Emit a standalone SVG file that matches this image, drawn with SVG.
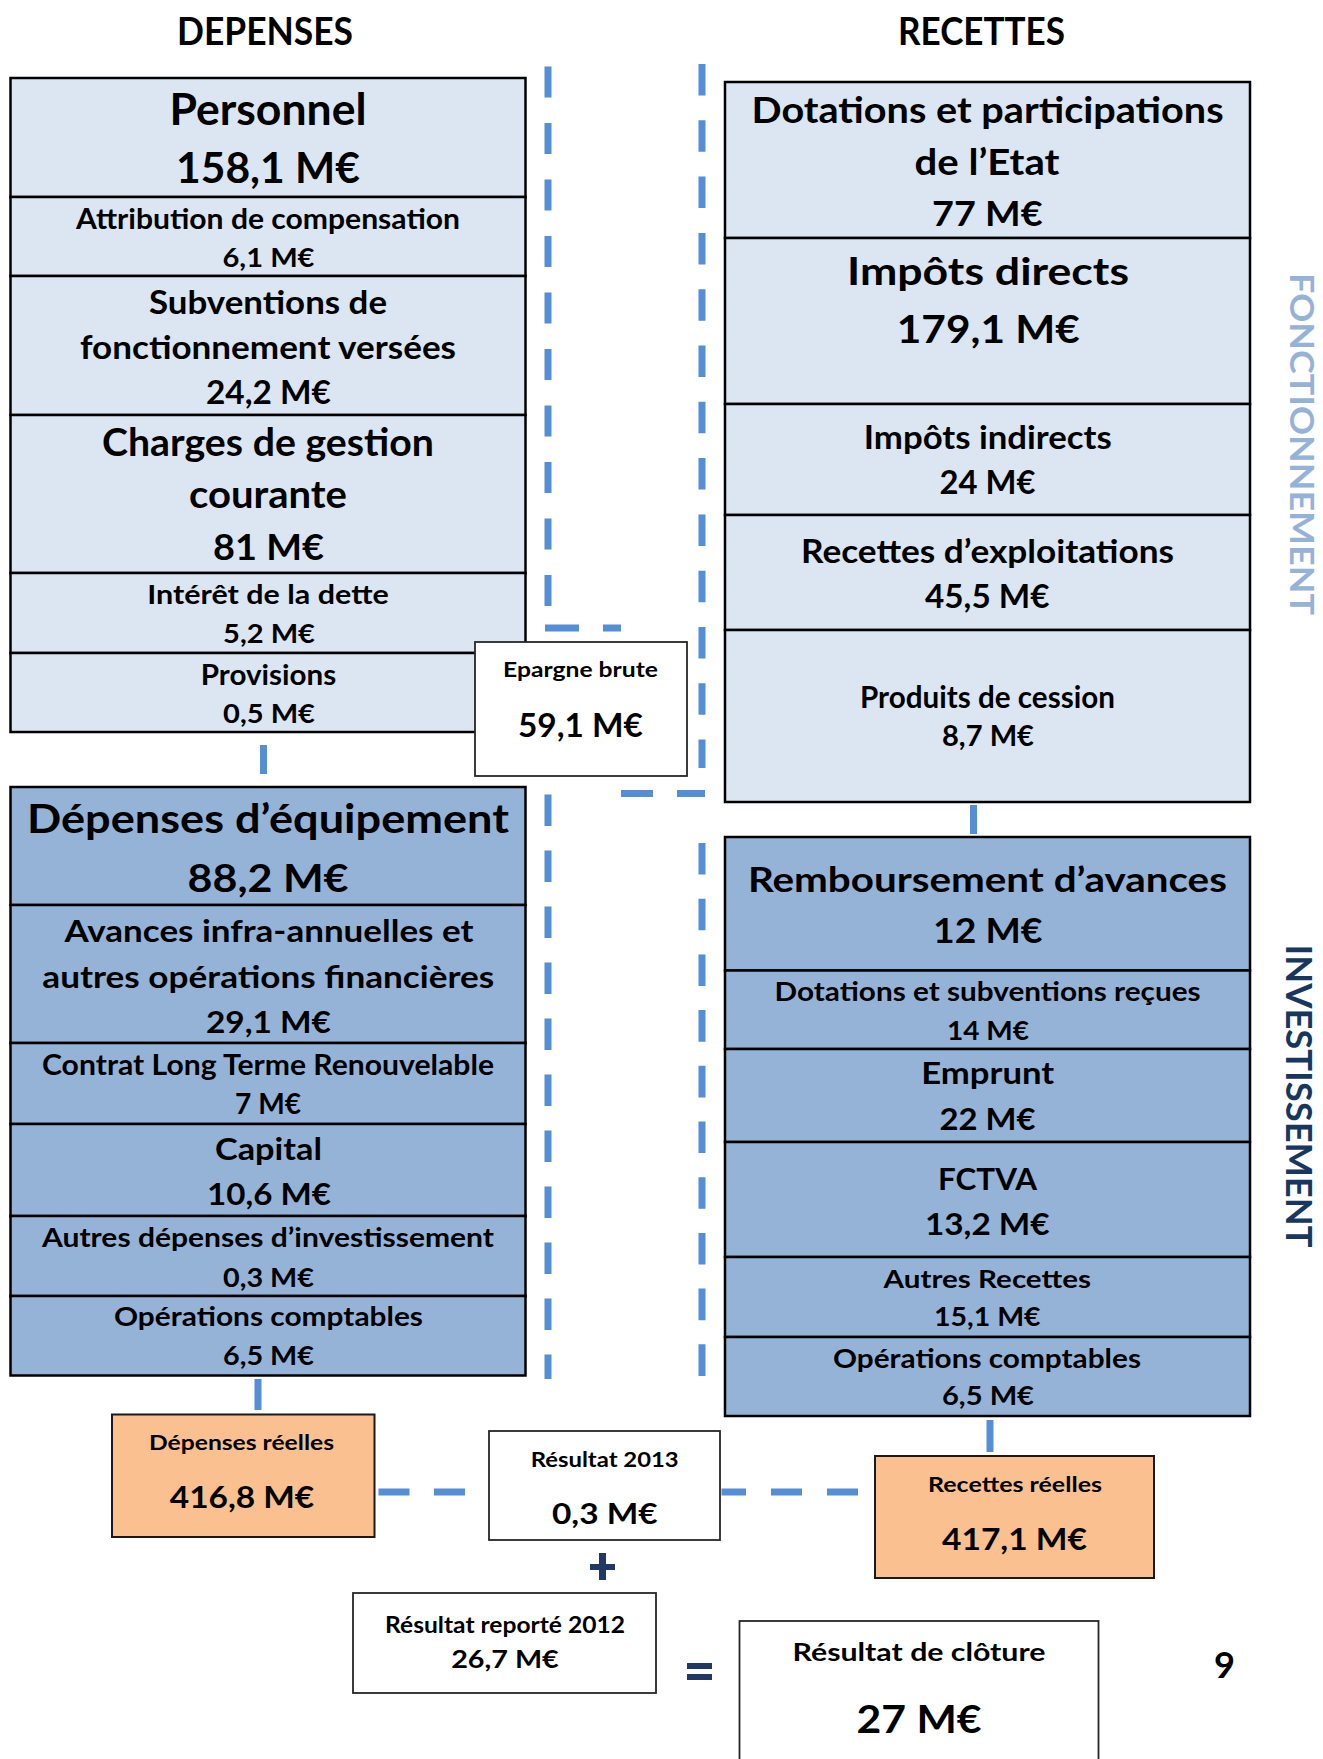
<svg xmlns="http://www.w3.org/2000/svg" width="1323" height="1759" viewBox="0 0 1323 1759">
<style>
.t{font-family:Lato,'Open Sans','Liberation Sans',sans-serif;font-weight:700;fill:#000;text-anchor:middle}
.l{fill:#dce6f2;stroke:#000;stroke-width:2.5}
.m{fill:#95b3d7;stroke:#000;stroke-width:2.5}
.o{fill:#fac090;stroke:#1a1a1a;stroke-width:2}
.w{fill:#fff;stroke:#262626;stroke-width:1.8}
.dash{stroke:#558ed5;stroke-width:7;fill:none}
.solid{stroke:#558ed5;stroke-width:7;fill:none}
.sign{fill:#1f3864}
</style>
<rect width="1323" height="1759" fill="#fff"/>

<g id="headers">
<text class="t" x="265" y="45" font-size="38" textLength="176" lengthAdjust="spacingAndGlyphs">DEPENSES</text>
<text class="t" x="981.5" y="45" font-size="38" textLength="167" lengthAdjust="spacingAndGlyphs">RECETTES</text>
</g>

<g id="connectors">
<path class="dash" d="M548,66.5 V606" stroke-dasharray="31 25.5"/>
<path class="dash" d="M545,628 H621" stroke-dasharray="34 24"/>
<path class="dash" d="M702,64 V768" stroke-dasharray="31.5 24.8"/>
<path class="dash" d="M705,793.5 H621" stroke-dasharray="28 24 32 10"/>
<path class="dash" d="M548,794.5 V1379" stroke-dasharray="31.6 24.4"/>
<path class="dash" d="M702,843 V1379" stroke-dasharray="31.6 24.1"/>
<path class="dash" d="M378.5,1492 H466" stroke-dasharray="31 24.5"/>
<path class="dash" d="M858,1492 H721.5" stroke-dasharray="31 25"/>
<path class="solid" d="M263.5,745 V774"/>
<path class="solid" d="M973.5,805 V834"/>
<path class="solid" d="M258,1379 V1410"/>
<path class="solid" d="M990,1420 V1452"/>
</g>

<g id="personnel">
<rect class="l" x="10.5" y="78" width="515" height="119"/>
<text class="t" x="268" y="125" font-size="43" textLength="197" lengthAdjust="spacingAndGlyphs">Personnel</text>
<text class="t" x="268" y="183" font-size="42" textLength="184" lengthAdjust="spacingAndGlyphs">158,1 M€</text>
</g>
<g id="attribution">
<rect class="l" x="10.5" y="197" width="515" height="79"/>
<text class="t" x="268" y="228.7" font-size="28" textLength="384" lengthAdjust="spacingAndGlyphs">Attribution de compensation</text>
<text class="t" x="268.5" y="266.5" font-size="26" textLength="92" lengthAdjust="spacingAndGlyphs">6,1 M€</text>
</g>
<g id="subventions">
<rect class="l" x="10.5" y="276" width="515" height="139"/>
<text class="t" x="268" y="314" font-size="33" textLength="238" lengthAdjust="spacingAndGlyphs">Subventions de</text>
<text class="t" x="268" y="359" font-size="33" textLength="376" lengthAdjust="spacingAndGlyphs">fonctionnement versées</text>
<text class="t" x="268.5" y="404" font-size="32" textLength="125" lengthAdjust="spacingAndGlyphs">24,2 M€</text>
</g>
<g id="charges">
<rect class="l" x="10.5" y="415" width="515" height="158"/>
<text class="t" x="268" y="455.6" font-size="37.5" textLength="332" lengthAdjust="spacingAndGlyphs">Charges de gestion</text>
<text class="t" x="268" y="508" font-size="37.5" textLength="158" lengthAdjust="spacingAndGlyphs">courante</text>
<text class="t" x="268.5" y="560" font-size="36" textLength="111" lengthAdjust="spacingAndGlyphs">81 M€</text>
</g>
<g id="interet">
<rect class="l" x="10.5" y="573" width="515" height="80"/>
<text class="t" x="268" y="604" font-size="27" textLength="241.5" lengthAdjust="spacingAndGlyphs">Intérêt de la dette</text>
<text class="t" x="269" y="642.6" font-size="27" textLength="92" lengthAdjust="spacingAndGlyphs">5,2 M€</text>
</g>
<g id="provisions">
<rect class="l" x="10.5" y="653" width="515" height="79"/>
<text class="t" x="268.5" y="685" font-size="29" textLength="135.5" lengthAdjust="spacingAndGlyphs">Provisions</text>
<text class="t" x="269" y="723" font-size="27" textLength="92" lengthAdjust="spacingAndGlyphs">0,5 M€</text>
</g>

<g id="epargne">
<rect class="w" x="475" y="642" width="212" height="134"/>
<text class="t" x="580.5" y="676.7" font-size="20" textLength="155" lengthAdjust="spacingAndGlyphs">Epargne brute</text>
<text class="t" x="580.5" y="736.7" font-size="33" textLength="125" lengthAdjust="spacingAndGlyphs">59,1 M€</text>
</g>

<g id="dotations-etat">
<rect class="l" x="725" y="82" width="525" height="156"/>
<text class="t" x="987.6" y="123" font-size="37" textLength="472" lengthAdjust="spacingAndGlyphs">Dotations et participations</text>
<text class="t" x="987" y="175.4" font-size="36" textLength="145" lengthAdjust="spacingAndGlyphs">de l’Etat</text>
<text class="t" x="987.3" y="226" font-size="35" textLength="110.5" lengthAdjust="spacingAndGlyphs">77 M€</text>
</g>
<g id="impots-directs">
<rect class="l" x="725" y="238" width="525" height="166"/>
<text class="t" x="988" y="285.4" font-size="38.5" textLength="282" lengthAdjust="spacingAndGlyphs">Impôts directs</text>
<text class="t" x="988.3" y="342.6" font-size="39" textLength="183" lengthAdjust="spacingAndGlyphs">179,1 M€</text>
</g>
<g id="impots-indirects">
<rect class="l" x="725" y="404" width="525" height="111"/>
<text class="t" x="987.8" y="449" font-size="32" textLength="248" lengthAdjust="spacingAndGlyphs">Impôts indirects</text>
<text class="t" x="987.6" y="494" font-size="32" textLength="96" lengthAdjust="spacingAndGlyphs">24 M€</text>
</g>
<g id="recettes-exploitation">
<rect class="l" x="725" y="515" width="525" height="115"/>
<text class="t" x="987.5" y="563" font-size="32" textLength="373" lengthAdjust="spacingAndGlyphs">Recettes d’exploitations</text>
<text class="t" x="987.3" y="607.8" font-size="32" textLength="124.6" lengthAdjust="spacingAndGlyphs">45,5 M€</text>
</g>
<g id="produits-cession">
<rect class="l" x="725" y="630" width="525" height="172"/>
<text class="t" x="987.5" y="708" font-size="29.5" textLength="255" lengthAdjust="spacingAndGlyphs">Produits de cession</text>
<text class="t" x="988" y="746" font-size="29" textLength="92" lengthAdjust="spacingAndGlyphs">8,7 M€</text>
</g>

<g id="depenses-equipement">
<rect class="m" x="10.5" y="787" width="515" height="118"/>
<text class="t" x="268" y="833" font-size="39.5" textLength="482" lengthAdjust="spacingAndGlyphs">Dépenses d’équipement</text>
<text class="t" x="268" y="891.8" font-size="39" textLength="161" lengthAdjust="spacingAndGlyphs">88,2 M€</text>
</g>
<g id="avances">
<rect class="m" x="10.5" y="905" width="515" height="138"/>
<text class="t" x="269" y="942" font-size="31" textLength="409" lengthAdjust="spacingAndGlyphs">Avances infra-annuelles et</text>
<text class="t" x="268.3" y="987.5" font-size="31" textLength="452" lengthAdjust="spacingAndGlyphs">autres opérations financières</text>
<text class="t" x="268.5" y="1033" font-size="31" textLength="125" lengthAdjust="spacingAndGlyphs">29,1 M€</text>
</g>
<g id="contrat">
<rect class="m" x="10.5" y="1043" width="515" height="81"/>
<text class="t" x="268" y="1075" font-size="28" textLength="452" lengthAdjust="spacingAndGlyphs">Contrat Long Terme Renouvelable</text>
<text class="t" x="268" y="1114" font-size="28" textLength="66" lengthAdjust="spacingAndGlyphs">7 M€</text>
</g>
<g id="capital">
<rect class="m" x="10.5" y="1124" width="515" height="92"/>
<text class="t" x="268.5" y="1159.5" font-size="31" textLength="107" lengthAdjust="spacingAndGlyphs">Capital</text>
<text class="t" x="269" y="1205" font-size="31" textLength="124" lengthAdjust="spacingAndGlyphs">10,6 M€</text>
</g>
<g id="autres-depenses">
<rect class="m" x="10.5" y="1216" width="515" height="80"/>
<text class="t" x="268" y="1247" font-size="27" textLength="452" lengthAdjust="spacingAndGlyphs">Autres dépenses d’investissement</text>
<text class="t" x="268.5" y="1286.8" font-size="27" textLength="91" lengthAdjust="spacingAndGlyphs">0,3 M€</text>
</g>
<g id="operations-depenses">
<rect class="m" x="10.5" y="1296" width="515" height="79.5"/>
<text class="t" x="268.5" y="1326" font-size="27" textLength="309" lengthAdjust="spacingAndGlyphs">Opérations comptables</text>
<text class="t" x="268.5" y="1365" font-size="27" textLength="91" lengthAdjust="spacingAndGlyphs">6,5 M€</text>
</g>

<g id="remboursement">
<rect class="m" x="725" y="837" width="525" height="133.5"/>
<text class="t" x="987.4" y="892" font-size="34" textLength="479" lengthAdjust="spacingAndGlyphs">Remboursement d’avances</text>
<text class="t" x="987.8" y="943.4" font-size="34" textLength="109.5" lengthAdjust="spacingAndGlyphs">12 M€</text>
</g>
<g id="dotations-subventions">
<rect class="m" x="725" y="970.5" width="525" height="78.5"/>
<text class="t" x="987.6" y="1001" font-size="26.5" textLength="426" lengthAdjust="spacingAndGlyphs">Dotations et subventions reçues</text>
<text class="t" x="988" y="1039.5" font-size="26" textLength="82" lengthAdjust="spacingAndGlyphs">14 M€</text>
</g>
<g id="emprunt">
<rect class="m" x="725" y="1049" width="525" height="93"/>
<text class="t" x="987.7" y="1084" font-size="31" textLength="133" lengthAdjust="spacingAndGlyphs">Emprunt</text>
<text class="t" x="987.6" y="1130.4" font-size="31" textLength="96" lengthAdjust="spacingAndGlyphs">22 M€</text>
</g>
<g id="fctva">
<rect class="m" x="725" y="1142" width="525" height="115"/>
<text class="t" x="987.5" y="1189.7" font-size="31" textLength="99" lengthAdjust="spacingAndGlyphs">FCTVA</text>
<text class="t" x="987.3" y="1235" font-size="31" textLength="124.6" lengthAdjust="spacingAndGlyphs">13,2 M€</text>
</g>
<g id="autres-recettes">
<rect class="m" x="725" y="1257" width="525" height="80"/>
<text class="t" x="987.3" y="1287.8" font-size="25.5" textLength="207.4" lengthAdjust="spacingAndGlyphs">Autres Recettes</text>
<text class="t" x="987.3" y="1326" font-size="26" textLength="106.5" lengthAdjust="spacingAndGlyphs">15,1 M€</text>
</g>
<g id="operations-recettes">
<rect class="m" x="725" y="1337" width="525" height="79"/>
<text class="t" x="987" y="1367.6" font-size="26.5" textLength="308" lengthAdjust="spacingAndGlyphs">Opérations comptables</text>
<text class="t" x="988" y="1405" font-size="26" textLength="92" lengthAdjust="spacingAndGlyphs">6,5 M€</text>
</g>

<g id="depenses-reelles">
<rect class="o" x="112" y="1414.5" width="262.5" height="122.5"/>
<text class="t" x="241.5" y="1450" font-size="21" textLength="185" lengthAdjust="spacingAndGlyphs">Dépenses réelles</text>
<text class="t" x="242" y="1508" font-size="30" textLength="144.5" lengthAdjust="spacingAndGlyphs">416,8 M€</text>
</g>
<g id="resultat-2013">
<rect class="w" x="489" y="1431" width="231" height="109"/>
<text class="t" x="604.7" y="1466.7" font-size="21" textLength="148" lengthAdjust="spacingAndGlyphs">Résultat 2013</text>
<text class="t" x="604.8" y="1524" font-size="29" textLength="105.7" lengthAdjust="spacingAndGlyphs">0,3 M€</text>
</g>
<g id="recettes-reelles">
<rect class="o" x="875" y="1456" width="279" height="122"/>
<text class="t" x="1015" y="1491.7" font-size="21" textLength="174" lengthAdjust="spacingAndGlyphs">Recettes réelles</text>
<text class="t" x="1014.5" y="1550" font-size="30" textLength="145" lengthAdjust="spacingAndGlyphs">417,1 M€</text>
</g>
<g id="plus">
<rect class="sign" x="599" y="1553" width="7" height="27"/>
<rect class="sign" x="590" y="1564" width="25" height="6"/>
</g>
<g id="resultat-reporte-2012">
<rect class="w" x="353" y="1593" width="303" height="100"/>
<text class="t" x="505" y="1633" font-size="23" textLength="240" lengthAdjust="spacingAndGlyphs">Résultat reporté 2012</text>
<text class="t" x="505" y="1668" font-size="25" textLength="107.6" lengthAdjust="spacingAndGlyphs">26,7 M€</text>
</g>
<g id="equals">
<rect class="sign" x="687" y="1663" width="25" height="6"/>
<rect class="sign" x="687" y="1674" width="25" height="6"/>
</g>
<g id="resultat-cloture">
<rect class="w" x="739.5" y="1621" width="359" height="160"/>
<text class="t" x="919" y="1661" font-size="25" textLength="253" lengthAdjust="spacingAndGlyphs">Résultat de clôture</text>
<text class="t" x="919" y="1733" font-size="39" textLength="125" lengthAdjust="spacingAndGlyphs">27 M€</text>
</g>
<g id="page-number">
<text class="t" x="1224.5" y="1678" font-size="36" textLength="21" lengthAdjust="spacingAndGlyphs">9</text>
</g>

<g id="section-labels">
<text class="t" transform="translate(1290,444) rotate(90)" font-size="33" textLength="342" lengthAdjust="spacingAndGlyphs" style="fill:#95b3d7">FONCTIONNEMENT</text>
<text class="t" transform="translate(1286,1096) rotate(90)" font-size="36" textLength="303" lengthAdjust="spacingAndGlyphs" style="fill:#17375e">INVESTISSEMENT</text>
</g>
</svg>
